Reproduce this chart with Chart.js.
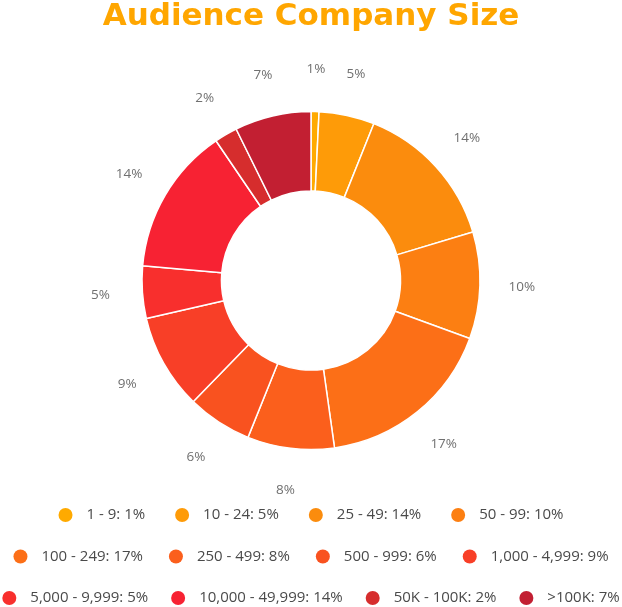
<!DOCTYPE html>
<html>
<head>
<meta charset="utf-8">
<script src="https://cdn.jsdelivr.net/npm/chart.js@4.4.1/dist/chart.umd.min.js"></script>
<style>
html,body{margin:0;padding:0;background:#ffffff;overflow:hidden}
canvas{display:block}
</style>
</head>
<body>
<canvas id="c" width="622" height="607"></canvas>
<script>
// ---- data ----
const chartTitle = 'Audience Company Size';
const categories = ['1 - 9', '10 - 24', '25 - 49', '50 - 99', '100 - 249', '250 - 499', '500 - 999', '1,000 - 4,999', '5,000 - 9,999', '10,000 - 49,999', '50K - 100K', '>100K'];
const shares = [0.76, 5.3, 14.3, 10.2, 17.2, 8.3, 6.2, 9.1, 5.0, 14.1, 2.2, 7.3];
const shownPercents = [1, 5, 14, 10, 17, 8, 6, 9, 5, 14, 2, 7];
const sliceColors = ['#FFAA00', '#FE9B08', '#FB8C0D', '#FC7F12', '#FC6F17', '#FB5F1C', '#F9521F', '#F83F27', '#F82F2D', '#F72233', '#D62D2D', '#C21F32'];

// ---- style constants ----
const LABEL_FONT = '13.5px "Open Sans"';
const LABEL_COLOR = '#707070';
const LABEL_GAP = 42;
const LEGEND_FONT = '15px "Open Sans"';
const LEGEND_COLOR = '#4A4A4A';
const LEGEND_PER_ROW = 4;
const LEGEND_TOP = 515;
const LEGEND_ROW_STEP = 41.5;
const LEGEND_DOT_R = 7;
const LEGEND_DOT_TO_TEXT = 21;
const LEGEND_ROW_GAPS = [37, 33, 30];

const outsideLabels = {
  id: 'outsideLabels',
  afterDatasetsDraw(chart) {
    const ctx = chart.ctx;
    const meta = chart.getDatasetMeta(0);
    ctx.save();
    ctx.font = LABEL_FONT;
    ctx.fillStyle = LABEL_COLOR;
    ctx.textAlign = 'center';
    ctx.textBaseline = 'middle';
    meta.data.forEach((arc, i) => {
      const p = arc.getProps(['x', 'y', 'startAngle', 'endAngle', 'outerRadius'], true);
      const mid = (p.startAngle + p.endAngle) / 2;
      const r = p.outerRadius + LABEL_GAP;
      ctx.fillText(shownPercents[i] + '%', p.x + Math.cos(mid) * r, p.y + Math.sin(mid) * r);
    });
    ctx.restore();
  }
};

const rowLegend = {
  id: 'rowLegend',
  afterDraw(chart) {
    const ctx = chart.ctx;
    const data = chart.data;
    const labels = data.labels;
    const bg = data.datasets[0].backgroundColor;
    ctx.save();
    ctx.font = LEGEND_FONT;
    ctx.textBaseline = 'middle';
    ctx.textAlign = 'left';
    const items = labels.map((c, i) => ({ text: c + ': ' + shownPercents[i] + '%', color: bg[i] }));
    const rows = [];
    for (let i = 0; i < items.length; i += LEGEND_PER_ROW) rows.push(items.slice(i, i + LEGEND_PER_ROW));
    const cx = chart.width / 2;
    rows.forEach((row, r) => {
      const gap = LEGEND_ROW_GAPS[r] !== undefined ? LEGEND_ROW_GAPS[r] : LEGEND_ROW_GAPS[LEGEND_ROW_GAPS.length - 1];
      row.forEach(it => { it.w = ctx.measureText(it.text).width; });
      let width = LEGEND_DOT_R;
      row.forEach((it, k) => { width += LEGEND_DOT_TO_TEXT + it.w + (k < row.length - 1 ? gap : 0); });
      let x = cx - width / 2 + LEGEND_DOT_R;
      const y = LEGEND_TOP + r * LEGEND_ROW_STEP;
      row.forEach(it => {
        ctx.fillStyle = it.color;
        ctx.beginPath();
        ctx.arc(x, y, LEGEND_DOT_R, 0, Math.PI * 2);
        ctx.fill();
        ctx.fillStyle = LEGEND_COLOR;
        ctx.fillText(it.text, x + LEGEND_DOT_TO_TEXT, y);
        x += LEGEND_DOT_TO_TEXT + it.w + gap;
      });
    });
    ctx.restore();
  }
};

new Chart(document.getElementById('c'), {
  type: 'doughnut',
  data: {
    labels: categories,
    datasets: [{
      data: shares,
      backgroundColor: sliceColors,
      borderColor: '#ffffff',
      borderWidth: 1.5,
      radius: 169,
      hoverOffset: 0
    }]
  },
  options: {
    responsive: false,
    animation: false,
    devicePixelRatio: 1,
    cutout: '53%',
    layout: { padding: { top: 0, bottom: 80, left: 0, right: 0 } },
    plugins: {
      legend: { display: false },
      tooltip: { enabled: false },
      title: {
        display: true,
        text: chartTitle,
        color: '#FFA600',
        font: { family: '"DejaVu Sans"', size: 31, weight: 'bold', lineHeight: 1.1 },
        padding: { top: 0, bottom: 0 }
      }
    }
  },
  plugins: [outsideLabels, rowLegend]
});
</script>
</body>
</html>
